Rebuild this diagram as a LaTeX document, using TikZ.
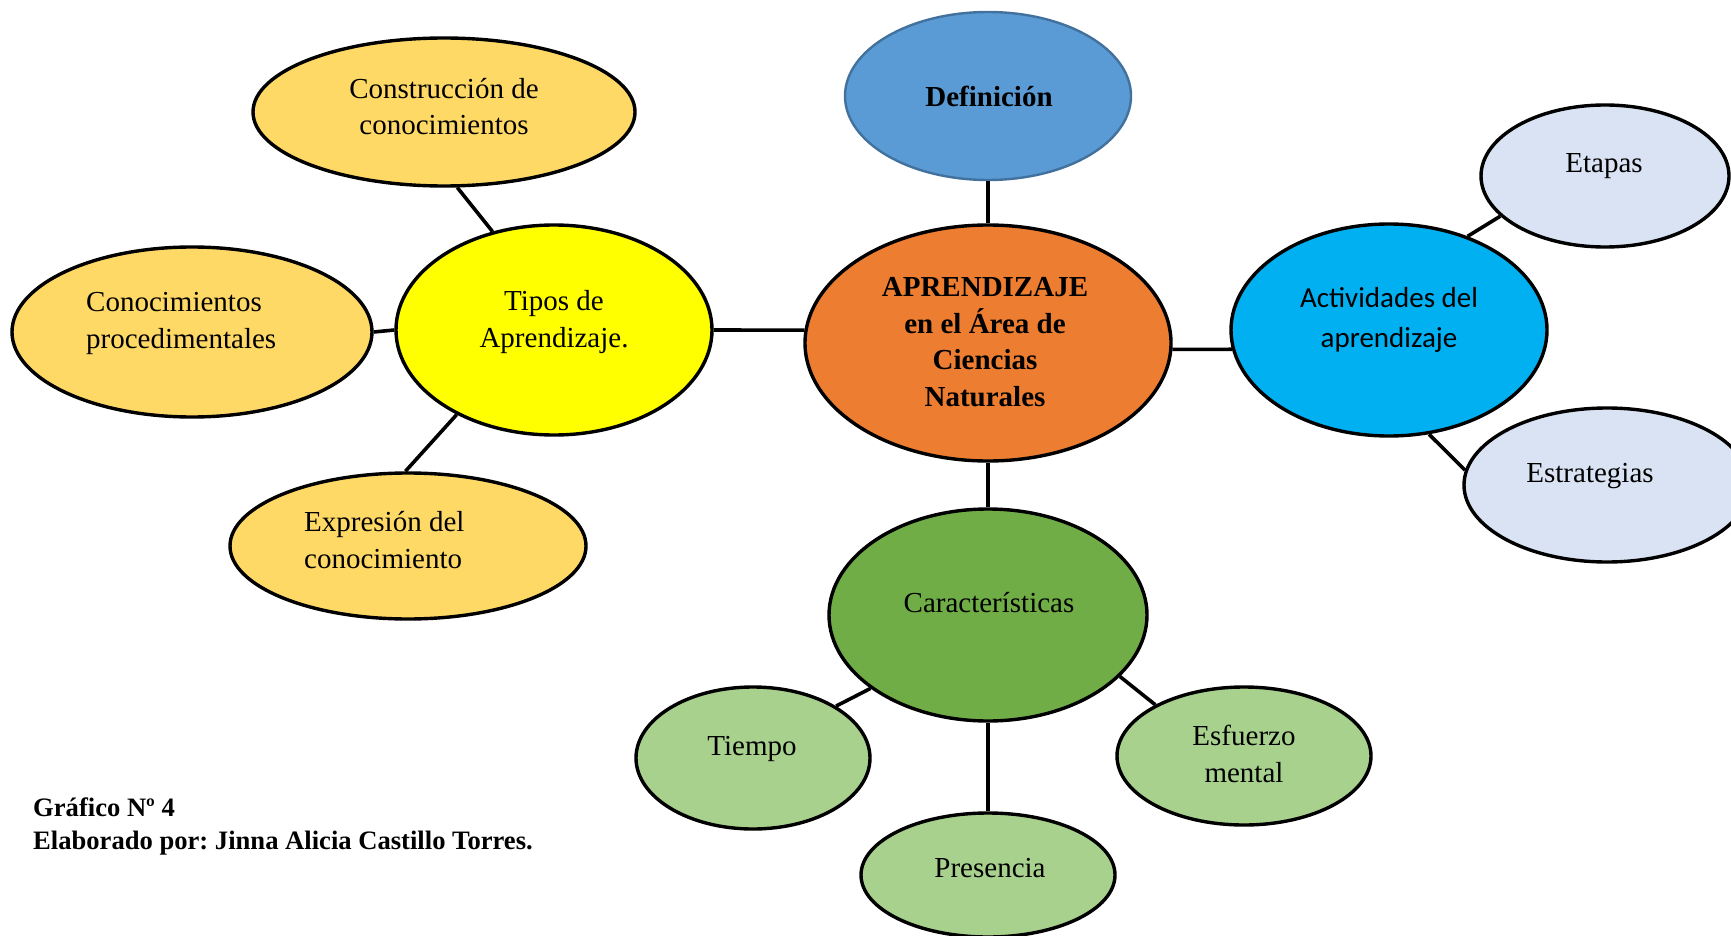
\documentclass[tikz,border=0pt]{standalone}
\usepackage{fontspec}
\setmainfont{Liberation Serif}
\newfontfamily\calibri{Carlito}
\usetikzlibrary{shapes.geometric}
\frenchspacing
\definecolor{defblue}{HTML}{5B9BD5}
\definecolor{defborder}{HTML}{41719C}
\definecolor{aprorange}{HTML}{ED7D31}
\definecolor{tipyellow}{HTML}{FFFF00}
\definecolor{lightyellow}{HTML}{FFD966}
\definecolor{actblue}{HTML}{00B0F0}
\definecolor{paleblue}{HTML}{DAE3F3}
\definecolor{cargreen}{HTML}{70AD47}
\definecolor{lightgreen}{HTML}{A9D18E}
\tikzset{
  ell/.style={ellipse, draw=black, line width=3.4pt, inner sep=0pt},
  conn/.style={draw=black, line width=3.6pt},
  txt/.style={font=\fontsize{29}{36.5}\selectfont, align=center, inner sep=0pt, anchor=base},
  ltxt/.style={font=\fontsize{29}{36.5}\selectfont, align=left, inner sep=0pt, anchor=base west},
}
\begin{document}
\begin{tikzpicture}[x=1pt, y=-1pt]
\useasboundingbox (0,0) rectangle (1731,936);
\fill[white] (0,0) rectangle (1731,936);
% ellipses
\node[ell, draw=defborder, line width=2.4pt, fill=defblue, minimum width=286, minimum height=168] (def) at (988,96) {};
\node[ell, fill=aprorange, minimum width=366, minimum height=236] (apr) at (988,343) {};
\node[ell, fill=tipyellow, minimum width=316, minimum height=210] (tipos) at (554,330) {};
\node[ell, fill=lightyellow, minimum width=360, minimum height=170] (conoc) at (192,332) {};
\node[ell, fill=lightyellow, minimum width=382, minimum height=148] (constr) at (444,112) {};
\node[ell, fill=lightyellow, minimum width=356, minimum height=146] (expr) at (408,546) {};
\node[ell, fill=actblue, minimum width=316, minimum height=212] (act) at (1389,330) {};
\node[ell, fill=paleblue, minimum width=248, minimum height=142] (etapas) at (1605,176) {};
\node[ell, fill=paleblue, minimum width=286, minimum height=154] (estr) at (1607,485) {};
\node[ell, fill=cargreen, minimum width=318, minimum height=212] (car) at (988,615) {};
\node[ell, fill=lightgreen, minimum width=234, minimum height=142] (tiempo) at (753,758) {};
\node[ell, fill=lightgreen, minimum width=254, minimum height=124] (pres) at (988,875) {};
\node[ell, fill=lightgreen, minimum width=254, minimum height=138] (esf) at (1244,756) {};
% connectors
\draw[conn] (def.south) -- (apr.north);
\draw[conn] (apr.176) -- (tipos.east);
\draw[conn] (tipos.west) -- (conoc.east);
\draw[conn] (tipos.122) -- (constr.-80);
\draw[conn] (tipos.221) -- (expr.92);
\draw[conn] (apr.-2) -- (act.187);
\draw[conn] (act.50) -- (etapas.201);
\draw[conn] (act.-69) -- (estr.174);
\draw[conn] (apr.south) -- (car.north);
\draw[conn] (car.212) -- (tiempo.32);
\draw[conn] (car.-25) -- (esf.150);
\draw[conn] (car.south) -- (pres.north);
% texts (multi-line nodes anchored at the baseline of their last line)
\node[txt, font=\fontsize{29}{36.5}\selectfont\bfseries] (def-t) at (989,107) {Definición};
\node[txt, font=\fontsize{29}{36.5}\selectfont\bfseries] (apr-t) at (985,406) {APRENDIZAJE\\en el Área de\\Ciencias\\Naturales};
\node[txt] (tipos-t) at (554,347) {Tipos de\\Aprendizaje.};
\node[ltxt] (conoc-t) at (86,348) {Conocimientos\\procedimentales};
\node[txt] (constr-t) at (444,135) {Construcción de\\conocimientos};
\node[ltxt] (expr-t) at (304,568) {Expresión del\\conocimiento};
\node[txt, font=\fontsize{29}{40}\calibri] (act-t) at (1389,347) {Actividades del\\aprendizaje};
\node[txt] (etapas-t) at (1604,173) {Etapas};
\node[txt] (estr-t) at (1590,482) {Estrategias};
\node[txt] (car-t) at (989,612) {Características};
\node[txt] (tiempo-t) at (752,755) {Tiempo};
\node[txt] (pres-t) at (990,877) {Presencia};
\node[txt] (esf-t) at (1244,782) {Esfuerzo\\mental};
\node[font=\fontsize{26.6}{33}\selectfont\bfseries, align=left, inner sep=0pt, anchor=base west] (foot) at (33,849) {Gráfico Nº 4\\Elaborado por: Jinna Alicia Castillo Torres.};
\end{tikzpicture}
\end{document}
